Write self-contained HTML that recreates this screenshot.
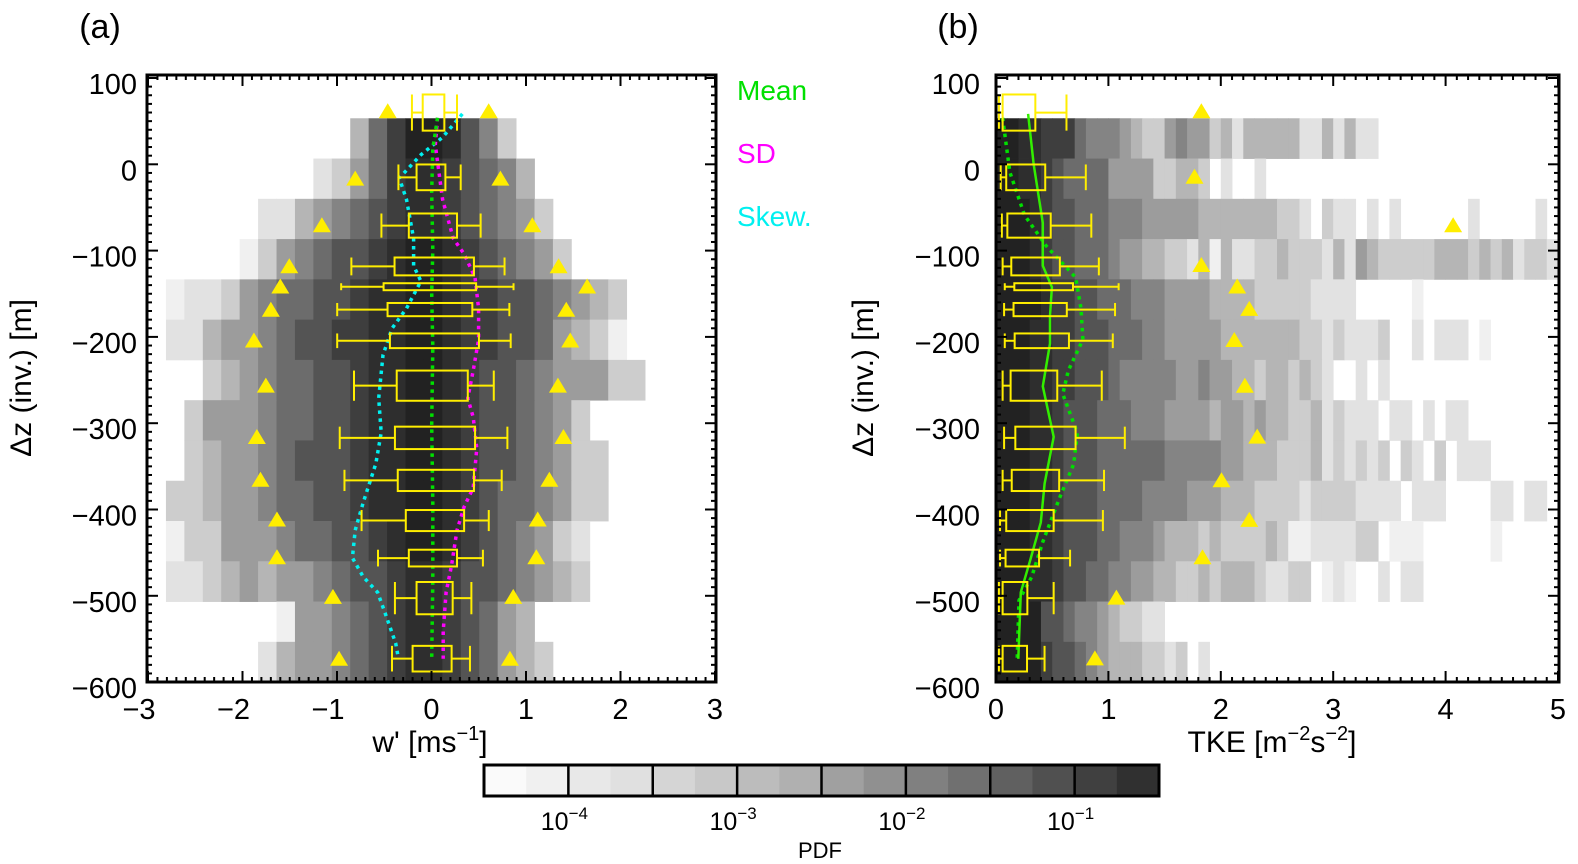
<!DOCTYPE html>
<html><head><meta charset="utf-8">
<style>
html,body{margin:0;padding:0;background:#fff;}
svg{display:block;font-family:"Liberation Sans",sans-serif;}
</style></head>
<body>
<svg id="fig" width="1578" height="864" viewBox="0 0 1578 864" xmlns="http://www.w3.org/2000/svg">
<rect width="1578" height="864" fill="#ffffff"/>
<g id="gA"></g>
<g id="gB"></g>
<g id="gC"></g>
<text x="100" y="38" font-size="34" text-anchor="middle">(a)</text>
<text x="958" y="38" font-size="34" text-anchor="middle">(b)</text>
<text x="737" y="100" font-size="28" fill="#00e000">Mean</text>
<text x="737" y="163" font-size="28" fill="#ff00ff">SD</text>
<text x="737" y="226" font-size="28" fill="#00f0f0">Skew.</text>
<text x="430" y="752" font-size="30" text-anchor="middle">w' [ms<tspan font-size="20" dy="-12">−1</tspan><tspan dy="12">]</tspan></text>
<text x="1272" y="752" font-size="30" text-anchor="middle">TKE [m<tspan font-size="20" dy="-12">−2</tspan><tspan dy="12">s</tspan><tspan font-size="20" dy="-12">−2</tspan><tspan dy="12">]</tspan></text>
<text transform="translate(31,378) rotate(-90)" font-size="30" text-anchor="middle">Δz (inv.) [m]</text>
<text transform="translate(873,378) rotate(-90)" font-size="30" text-anchor="middle">Δz (inv.) [m]</text>
</svg>
<script>
// ---------- data ----------
const yTicks = [100, 0, -100, -200, -300, -400, -500, -600];
const xTicksA = [-3, -2, -1, 0, 1, 2, 3];
const xTicksB = [0, 1, 2, 3, 4, 5];
// heatmap levels (hex digit 0..b), rows from top bin downward (bin 100..53 empty)
const heatA = [
"00000000000000000000000000",
"0000000000479bba8630000000",
"0000000023579aa98764000000",
"0000022456789aa98765300000",
"000013567889abba9876530000",
"12235677889aabba9988765430",
"22455678899aabba9988754310",
"00345677889aabba9887655533",
"03555677889aabba9887653000",
"03455678889aabba9887653300",
"33455677889aabba9877653300",
"133555677889abba9876532000",
"2234545567889aa98876543000",
"0000001556789aa98754000000",
"0000024556789aa98754300000"];
const Z10 = "0000000000";
const heatB = [
Z10+Z10+Z10+Z10+Z10,
"bbaa999766"+"6543356553"+"4244444224"+"2422000000"+Z10,
"bbaa987777"+"5555334430"+"2002000000"+Z10+Z10,
"bbba988777"+"6665555544"+"4444433203"+"2202020000"+"0020000020",
"bbba988777"+"6554433241"+"4223343332"+"4254333334"+"4434342332",
"bbbba99887"+"7766655554"+"4443333322"+"2200000100"+Z10,
"bbbaa99888"+"7776655555"+"4444444332"+"3222300202"+"2201000000",
"bbbaa99888"+"7666665565"+"5443443432"+"0020200000"+Z10,
"bbbaa98887"+"7766655554"+"5545443342"+"3222022020"+"2200000000",
"bbbaa98887"+"7777766666"+"5544433342"+"3232303203"+"0222000000",
"bbbaa98887"+"7776666555"+"4443333233"+"3322220222"+"0000220220",
"bbbaa98887"+"7666544434"+"3333431122"+"2233011100"+"0000100000",
"bbbaa98877"+"6655443343"+"4443223301"+"2100202200"+Z10,
"bbbb887665"+"4332200000"+Z10+Z10+Z10,
"bbbb988765"+"4443323020"+Z10+Z10+Z10];
const levelGray = ["#ffffff","#f0f0f0","#e2e2e2","#cdcdcd","#b5b5b5","#9c9c9c","#848484","#6c6c6c","#545454","#3e3e3e","#2e2e2e","#222222"];
// box plots
const boxYTop = [80.9,-0.2,-57,-108,-137.8,-160.7,-196,-239,-304,-354,-400.6,-446.6,-484,-558];
const boxYBot = [39,-30,-85,-128.7,-145.9,-176,-213,-274,-330,-378.6,-425,-466,-521.4,-587.7];
const boxA_lo = [-0.207,-0.35,-0.53,-0.848,-0.956,-0.998,-0.998,-0.82,-0.971,-0.921,-0.74,-0.566,-0.387,-0.418];
const boxA_q1 = [-0.093,-0.158,-0.24,-0.391,-0.507,-0.465,-0.44,-0.368,-0.387,-0.357,-0.272,-0.24,-0.158,-0.2];
const boxA_q3 = [0.136,0.147,0.27,0.449,0.472,0.432,0.502,0.384,0.461,0.449,0.345,0.27,0.224,0.213];
const boxA_hi = [0.27,0.309,0.52,0.773,0.868,0.824,0.838,0.659,0.803,0.743,0.606,0.544,0.422,0.407];
const boxB_lo = [0.026,0.042,0.052,0.059,0.078,0.072,0.078,0.059,0.072,0.059,0.036,0.036,0.026,0.026];
const boxB_q1 = [0.059,0.091,0.101,0.136,0.163,0.156,0.166,0.13,0.172,0.14,0.091,0.085,0.059,0.059];
const boxB_q3 = [0.35,0.438,0.487,0.568,0.685,0.63,0.649,0.545,0.708,0.562,0.513,0.383,0.279,0.276];
const boxB_hi = [0.627,0.799,0.848,0.915,1.091,1.059,1.039,0.941,1.146,0.961,0.951,0.659,0.513,0.432];
// triangles
const triY = [62,-16,-70,-117.5,-141,-168,-203.6,-255.9,-315.4,-365,-411,-454.7,-500.7,-572.4];
const triA_left = [-0.463,-0.807,-1.16,-1.505,-1.6,-1.70,-1.879,-1.753,-1.848,-1.81,-1.635,-1.635,-1.043,-0.978];
const triA_right = [0.605,0.729,1.067,1.345,1.647,1.426,1.468,1.338,1.396,1.247,1.124,1.109,0.865,0.830];
const triB_y = [62,-13.8,-70,-116.1,-141,-167,-203,-256,-315,-365.5,-411.4,-454.7,-501.5,-572];
const triB_x = [1.827,1.766,4.067,1.827,2.146,2.253,2.12,2.214,2.324,2.006,2.253,1.837,1.071,0.88];
// profile curves
const meanA_x = [0.063,0.014,0.002,0.014,0.002,0.014,0.002,0.014,0.014,0.002];
const meanA_y = [53.9,17.8,-31.8,-99.4,-149,-212,-302,-392,-483,-573];
const sdA_x = [0.063,0.04,0.117,0.231,0.345,0.46,0.498,0.498,0.441,0.384,0.441,0.479,0.441,0.345,0.27,0.212,0.155,0.124,0.124];
const sdA_y = [53.9,22.4,-40.8,-85.9,-103.9,-131,-167,-203,-239,-271,-293,-329,-375,-397,-424,-465,-496,-541,-573];
const skA_x = [0.327,0.117,-0.112,-0.341,-0.265,-0.189,-0.189,-0.112,-0.265,-0.417,-0.513,-0.559,-0.532,-0.589,-0.723,-0.807,-0.837,-0.723,-0.570,-0.494,-0.379,-0.349];
const skA_y = [58.4,31.3,11,-16,-40.8,-85.9,-117.5,-135.5,-167,-190,-221,-271,-311,-347,-392,-424,-456,-478,-496,-519,-555,-573];
const meanB_x = [0.286,0.335,0.416,0.416,0.497,0.48,0.48,0.416,0.513,0.432,0.399,0.302,0.221,0.198];
const meanB_y = [58.4,-0.2,-67.9,-117.5,-142.3,-176,-207.6,-257.2,-315.9,-370,-415,-460,-496,-573];
const sdB_x = [0.059,0.124,0.254,0.448,0.708,0.756,0.773,0.643,0.594,0.724,0.691,0.561,0.416,0.318,0.205,0.189];
const sdB_y = [53.9,-9.3,-58.9,-94.9,-131,-167,-203,-239,-266.3,-311.4,-347.4,-388,-437.5,-478,-505.2,-573];
const cbarGray = ["#fafafa","#f0f0f0","#e8e8e8","#e0e0e0","#d5d5d5","#c8c8c8","#bcbcbc","#b0b0b0","#a0a0a0","#909090","#808080","#707070","#606060","#505050","#404040","#303030"];
const cbarLabels = ["−4","−3","−2","−1"];

// ---------- helpers ----------
const NS = "http://www.w3.org/2000/svg";
function mk(tag, parent, attrs){ const e=document.createElementNS(NS,tag); for(const k in attrs) e.setAttribute(k,attrs[k]); parent.appendChild(e); return e; }
const Y = v => 78 + (100 - v) * 0.863;
const XA = v => 431.5 + v * 94.5;
const XB = v => 996 + v * 112.4;
const BIN = 700/15;

function drawHeat(g, rows, x0, w, X){
  rows.forEach((row, r) => {
    const yT = Y(100 - r*BIN), yB = Y(100 - (r+1)*BIN);
    for (let c = 0; c < row.length; c++){
      const lv = parseInt(row[c], 16);
      if (!lv) continue;
      const xl = X(x0 + c*w), xr = X(x0 + (c+1)*w);
      const e = mk("rect", g, {x:xl.toFixed(2), y:yT.toFixed(2), width:(xr-xl+0.4).toFixed(2), height:(yB-yT+0.4).toFixed(2), fill:levelGray[lv]});
      
      
    }
  });
}
function drawBoxes(g, X, lo, q1, q3, hi){
  for (let i=0;i<boxYTop.length;i++){
    const yt=Y(boxYTop[i]), yb=Y(boxYBot[i]), ym=(yt+yb)/2;
    const bg = mk("g", g, {stroke:"#ffee00","stroke-width":2,fill:"none"});
    
    
    mk("rect", bg, {x:X(q1[i]), y:yt, width:X(q3[i])-X(q1[i]), height:yb-yt});
    mk("line", bg, {x1:X(lo[i]), x2:X(q1[i]), y1:ym, y2:ym});
    mk("line", bg, {x1:X(q3[i]), x2:X(hi[i]), y1:ym, y2:ym});
    mk("line", bg, {x1:X(lo[i]), x2:X(lo[i]), y1:yt, y2:yb});
    mk("line", bg, {x1:X(hi[i]), x2:X(hi[i]), y1:yt, y2:yb});
  }
}
function tri(g, px, py){
  const e = mk("polygon", g, {points:`${px-9},${py+7.5} ${px+9},${py+7.5} ${px},${py-7.5}`, fill:"#ffee00"});
  
  
}
function curve(g, X, xs, ys, color, dashed, name){
  const d = xs.map((v,i)=>(i?"L":"M")+X(v).toFixed(1)+","+Y(ys[i]).toFixed(1)).join(" ");
  const e = mk("path", g, {d, fill:"none", stroke:color, "stroke-width":dashed?3.5:2.5, "stroke-dasharray":dashed?"3.5 4.5":"none"});
  
  
}
function frame(g, x1, x2, X, xTicks, xMinStep, xmin, xmax, labelRightX){
  const t = mk("g", g, {stroke:"#000","stroke-width":2});
  
  
  for (let v=xmin; v<=xmax+1e-6; v+=xMinStep){
    const major = Math.abs(v-Math.round(v))<1e-6;
    const L = major?11:5, px=X(v);
    mk("line", t, {x1:px,x2:px,y1:75,y2:75+L});
    mk("line", t, {x1:px,x2:px,y1:682,y2:682-L});
  }
  for (let v=-600; v<=100; v+=10){
    const major = v%100===0, L = major?11:5, py=Y(v);
    mk("line", t, {x1:x1,x2:x1+L,y1:py,y2:py});
    mk("line", t, {x1:x2,x2:x2-L,y1:py,y2:py});
  }
  const fr = mk("rect", g, {x:x1, y:75, width:x2-x1, height:682-75, fill:"none", stroke:"#000", "stroke-width":3});
  
  
  xTicks.forEach(v=>{
    const lbl = (v<0?"−":"")+Math.abs(v);
    const e = mk("text", g, {x:X(v)-(v<0?9:0), y:719, "font-size":29, "text-anchor":"middle"});
    e.textContent = lbl;
    
    
  });
  yTicks.forEach(v=>{
    const e = mk("text", g, {x:labelRightX, y:Y(v)+16, "font-size":29, "text-anchor":"end"});
    e.textContent = (v<0?"−":"")+Math.abs(v);
    
    
  });
}

// ---------- panel a ----------
const gA = document.getElementById("gA");
drawHeat(gA, heatA, -0.08-14*0.195, 0.195, XA);
curve(gA, XA, skA_x, skA_y, "#00f0f0", true, "skewness-curve");
curve(gA, XA, sdA_x, sdA_y, "#ff00ff", true, "sd-curve");
curve(gA, XA, meanA_x, meanA_y, "#00e000", true, "mean-curve");
drawBoxes(gA, XA, boxA_lo, boxA_q1, boxA_q3, boxA_hi);
triY.forEach((y,i)=>{ tri(gA, XA(triA_left[i]), Y(y)); tri(gA, XA(triA_right[i]), Y(y)); });
frame(gA, 147, 716, XA, xTicksA, 0.1, -3, 3, 137);

// ---------- panel b ----------
const gB = document.getElementById("gB");
drawHeat(gB, heatB, 0, 0.1, XB);
curve(gB, XB, sdB_x, sdB_y, "#00e000", true, "sd-curve");
curve(gB, XB, meanB_x, meanB_y, "#33ee00", false, "mean-curve");
drawBoxes(gB, XB, boxB_lo, boxB_q1, boxB_q3, boxB_hi);
triB_y.forEach((y,i)=>tri(gB, XB(triB_x[i]), Y(y)));
frame(gB, 996, 1559, XB, xTicksB, 0.1, 0, 5, 980);

// ---------- colorbar ----------
const gC = document.getElementById("gC");
const cw = (1159-484)/cbarGray.length;
cbarGray.forEach((c,i)=>{
  const e = mk("rect", gC, {x:484+i*cw, y:765, width:cw+0.5, height:31, fill:c});
  
  
});
for (let i=2;i<cbarGray.length;i+=2){
  mk("line", gC, {x1:484+i*cw, x2:484+i*cw, y1:765, y2:796, stroke:"#000","stroke-width":2.5});
}
mk("rect", gC, {x:484, y:765, width:1159-484, height:31, fill:"none", stroke:"#000", "stroke-width":3});
cbarLabels.forEach((s,i)=>{
  const e = mk("text", gC, {x:484+(4*i+2)*cw-4, y:830, "font-size":25, "text-anchor":"middle"});
  e.innerHTML = '10<tspan font-size="17" dy="-11">'+s+'</tspan>';
  
  
});
const pdf = mk("text", gC, {x:820, y:858, "font-size":22, "text-anchor":"middle"});
pdf.textContent = "PDF";


</script>
</body></html>
